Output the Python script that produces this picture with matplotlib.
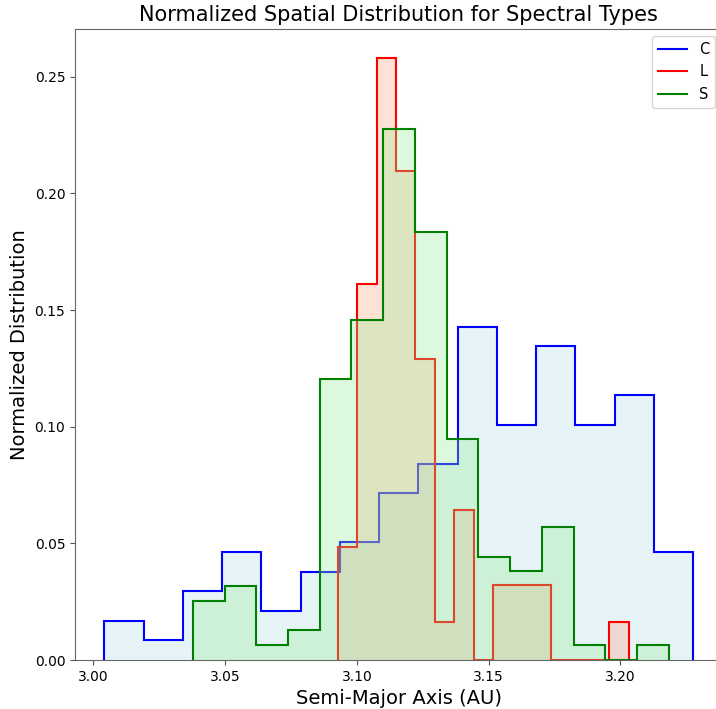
import numpy as np
import matplotlib
matplotlib.use('Agg')
import matplotlib.pyplot as plt

# bin edges (min/max of each sample, 15 bins) and normalized heights
c_range = (3.0042, 3.2276)
c_heights = [0.0168, 0.0084, 0.0294, 0.0462, 0.0210, 0.0378, 0.0504, 0.0714,
             0.0840, 0.1429, 0.1008, 0.1345, 0.1008, 0.1134, 0.0462]

l_range = (3.0928, 3.2031)
l_heights = [0.0484, 0.1613, 0.2581, 0.2097, 0.1290, 0.0161, 0.0645, 0.0,
             0.0323, 0.0323, 0.0323, 0.0, 0.0, 0.0, 0.0161]

s_range = (3.0378, 3.2183)
s_heights = [0.0253, 0.0316, 0.0063, 0.0127, 0.1203, 0.1456, 0.2278, 0.1835,
             0.0949, 0.0443, 0.0380, 0.0570, 0.0063, 0.0, 0.0063]

types = ['C', 'L', 'S']
line_colors = ['blue', 'red', 'green']
fill_colors = ['lightblue', 'lightsalmon', 'lightgreen']

fig = plt.figure(figsize=(7.16, 7.09), dpi=100)
ax = fig.add_axes([75 / 716, 1 - 660 / 709, 647.5 / 716, 631 / 709])

for t, rng, h, lc, fc in zip(types, [c_range, l_range, s_range],
                             [c_heights, l_heights, s_heights],
                             line_colors, fill_colors):
    edges = np.linspace(rng[0], rng[1], len(h) + 1)
    ax.stairs(h, edges, fill=True, color=fc, alpha=0.3)
    ax.stairs(h, edges, color=lc, linewidth=1.5, label=t)

ax.set_title('Normalized Spatial Distribution for Spectral Types', fontsize=15)
ax.set_xlabel('Semi-Major Axis (AU)', fontsize=14)
ax.set_ylabel('Normalized Distribution', fontsize=14)
ax.set_xticks([3.00, 3.05, 3.10, 3.15, 3.20])
ax.set_yticks([0.0, 0.05, 0.10, 0.15, 0.20, 0.25])
ax.set_xlim(2.9931, 3.2387)
ax.set_ylim(0, 0.2705)
ax.tick_params(labelsize=10, color='#555555')
for sp in ax.spines.values():
    sp.set_color('#666666')
ax.legend(loc='upper right', fontsize=10.5)

fig.savefig('out.png', dpi=100)
